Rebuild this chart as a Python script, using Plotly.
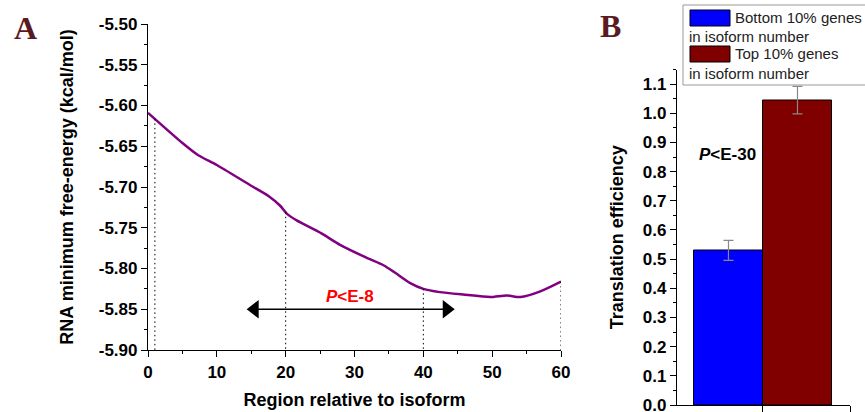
import numpy as np
import plotly.graph_objects as go

# ---------------- data ----------------
region = [0, 5, 7.3, 10, 14.8, 17.5, 19.2, 20.2, 21.6, 25.2, 27.9, 31.8, 34.2,
          35.7, 38.1, 40, 42.4, 45.8, 49.7, 52.1, 54.1, 57, 60]
mfe = [-5.609, -5.646, -5.661, -5.673, -5.6975, -5.711, -5.723, -5.733, -5.741,
       -5.757, -5.771, -5.787, -5.796, -5.804, -5.818, -5.825, -5.829, -5.832,
       -5.835, -5.833, -5.835, -5.828, -5.816]
mfe_ticks = [-5.90, -5.85, -5.80, -5.75, -5.70, -5.65, -5.60, -5.55, -5.50]
mfe_ticklabels = ["-5.90", "-5.85", "-5.80", "-5.75", "-5.70", "-5.65", "-5.60", "-5.55", "-5.50"]
marker_regions = [1, 20, 40, 60]
arrow_x = [15.5, 43.4]
arrow_y = -5.85

groups = [1, 2]
te_values = [0.53, 1.045]
te_errors = [0.034, 0.047]
group_names = ["Bottom 10% genes", "Top 10% genes"]
group_colors = ["#0000FF", "#800000"]

W, H = 865, 412
def px(x): return x / W
def py(y): return 1 - y / H

FONT = "Liberation Sans, Arial, sans-serif"
fig = go.Figure()

# Panel A curve
fig.add_trace(go.Scatter(x=region, y=mfe, mode="lines",
                         line=dict(color="#800080", width=2.5, shape="spline", smoothing=0.6),
                         xaxis="x", yaxis="y", showlegend=False))
# dotted drop lines
for r in marker_regions:
    yv = float(np.interp(r, region, mfe))
    fig.add_trace(go.Scatter(x=[r, r], y=[yv, -5.90], mode="lines",
                             line=dict(color="black", width=1, dash="1.5px,3px"),
                             xaxis="x", yaxis="y", showlegend=False))
# double arrow
fig.add_trace(go.Scatter(x=arrow_x, y=[arrow_y, arrow_y], mode="lines",
                         line=dict(color="black", width=1.5),
                         xaxis="x", yaxis="y", showlegend=False))
fig.add_trace(go.Scatter(x=arrow_x, y=[arrow_y, arrow_y], mode="markers",
                         marker=dict(symbol=["triangle-left", "triangle-right"], size=16,
                                     color="black"),
                         xaxis="x", yaxis="y", showlegend=False))

# Panel B bars
for g, v, e, c in zip(groups, te_values, te_errors, group_colors):
    fig.add_trace(go.Bar(x=[g], y=[v], width=1, marker=dict(color=c, line=dict(color="black", width=1)),
                         error_y=dict(type="data", array=[e], color="#888888", thickness=1.2, width=5),
                         xaxis="x2", yaxis="y2", showlegend=False))

tickfont = dict(family=FONT, size=17, color="black", weight="bold")
titlefont = dict(family=FONT, size=18, color="black", weight="bold")

common = dict(showgrid=False, zeroline=False, showline=True, linecolor="black", linewidth=1.2,
              ticks="outside", ticklen=6, tickwidth=1.2, tickcolor="black", automargin=False,
              ticklabeloverflow="allow")

fig.update_layout(
    width=W, height=H, margin=dict(l=0, r=0, t=0, b=0, autoexpand=False),
    paper_bgcolor="white", plot_bgcolor="white",
    xaxis=dict(domain=[px(148), px(561)], range=[0, 60], dtick=10, tick0=0,
               minor=dict(dtick=5, ticks="outside", ticklen=3, tickcolor="black"),
               tickfont=tickfont, anchor="y",
               title=dict(text="Region relative to isoform", font=titlefont, standoff=12), **common),
    yaxis=dict(domain=[py(350), py(24)], range=[-5.90, -5.50],
               tickvals=mfe_ticks, ticktext=mfe_ticklabels,
               minor=dict(dtick=0.025, ticks="outside", ticklen=3, tickcolor="black"),
               tickfont=tickfont, anchor="x",
               title=dict(text="RNA minimum free-energy (kcal/mol)", font=titlefont, standoff=20),
               **common),
    xaxis2=dict(domain=[px(677), px(850)], range=[0.254, 2.761], tickvals=[1.5, 2.761],
                ticktext=["", ""], anchor="y2", **common),
    yaxis2=dict(domain=[py(405), py(69.5)], range=[0, 1.15], dtick=0.1, tick0=0, tickformat=".1f",
                minor=dict(dtick=0.05, ticks="outside", ticklen=3, tickcolor="black"),
                tickfont=tickfont, anchor="x2",
                title=dict(text="Translation efficiency", font=titlefont, standoff=14), **common),
    bargap=0,
)

annotations = [
    dict(x=px(25), y=py(28), xref="paper", yref="paper", text="<b>A</b>", showarrow=False,
         xanchor="center", yanchor="middle",
         font=dict(family="Liberation Serif, DejaVu Serif, serif", size=32, color="#5a1a22")),
    dict(x=px(610), y=py(26), xref="paper", yref="paper", text="<b>B</b>", showarrow=False,
         xanchor="center", yanchor="middle",
         font=dict(family="Liberation Serif, DejaVu Serif, serif", size=32, color="#5a1a22")),
    dict(x=29.4, y=-5.834, xref="x", yref="y", text="<b><i>P</i>&lt;E-8</b>", showarrow=False,
         font=dict(family=FONT, size=17, color="#FF0000")),
    dict(x=0.98, y=0.86, xref="x2", yref="y2", text="<b><i>P</i>&lt;E-30</b>", showarrow=False,
         font=dict(family=FONT, size=17, color="black")),
]
shapes = [
    dict(type="rect", xref="paper", yref="paper", x0=px(683), x1=px(870), y0=py(85), y1=py(5),
         line=dict(color="#999999", width=1), fillcolor="white", layer="above"),
]
legend_rows = [(10, 26), (46, 62)]
for (top, bot), name, col in zip(legend_rows, group_names, group_colors):
    shapes.append(dict(type="rect", xref="paper", yref="paper", x0=px(690), x1=px(730),
                       y0=py(bot), y1=py(top), fillcolor=col, line=dict(color="black", width=1),
                       layer="above"))
    annotations.append(dict(x=px(733), y=py((top + bot) / 2), xref="paper", yref="paper",
                            text=name, showarrow=False, xanchor="left", yanchor="middle",
                            font=dict(family=FONT, size=15, color="#222222")))
    annotations.append(dict(x=px(687), y=py(bot + 11), xref="paper", yref="paper",
                            text="in isoform number", showarrow=False, xanchor="left",
                            yanchor="middle", font=dict(family=FONT, size=15, color="#222222")))

fig.update_layout(annotations=annotations, shapes=shapes)
fig.write_html("out.html", config={"displayModeBar": False},
               post_script="document.body.style.margin='0';document.body.style.overflow='hidden';")
